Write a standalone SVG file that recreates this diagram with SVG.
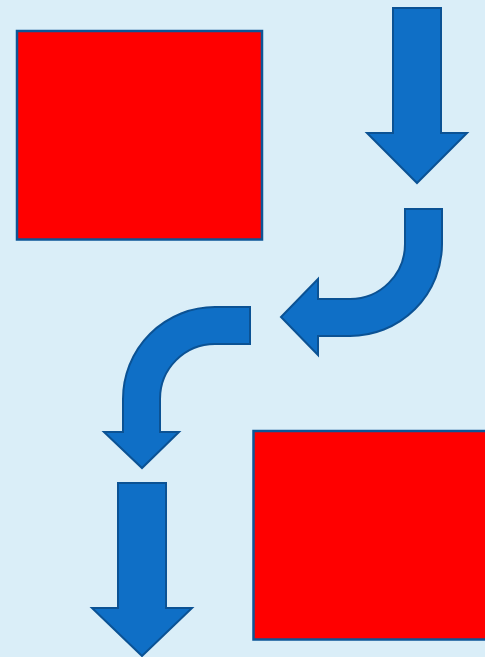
<svg xmlns="http://www.w3.org/2000/svg" width="485" height="657" viewBox="0 0 485 657">
  <style>
    .box { fill: #FF0000; stroke: #0D5596; stroke-width: 2.5; }
    .arrow { fill: #0F6FC6; stroke: #0B5294; stroke-width: 2; stroke-linejoin: miter; }
  </style>
  <rect x="0" y="0" width="485" height="657" fill="#DAEEF8"/>
  <g id="box-top-left">
    <rect class="box" x="17" y="31" width="245" height="208.5"/>
  </g>
  <g id="box-bottom-right">
    <rect class="box" x="253.5" y="431" width="245" height="208.5"/>
  </g>
  <g id="connectors">
    <polygon id="arrow-down-top" class="arrow" points="393,8 441,8 441,133 467,133 417,183 367,133 393,133"/>
    <path id="arrow-curve-left" class="arrow" d="M405,209 L442,209 L442,244 A92,92 0 0 1 350,336 L318,336 L318,355 L281,317 L318,279 L318,299 L350,299 A55,55 0 0 0 405,244 Z"/>
    <path id="arrow-curve-down" class="arrow" d="M250,307 L250,344 L215,344 A55,55 0 0 0 160,399 L160,432 L179,432 L142,468 L104,432 L123,432 L123,399 A92,92 0 0 1 215,307 Z"/>
    <polygon id="arrow-down-bottom" class="arrow" points="118,483 166,483 166,608 192,608 142,656 92,608 118,608"/>
  </g>
</svg>
